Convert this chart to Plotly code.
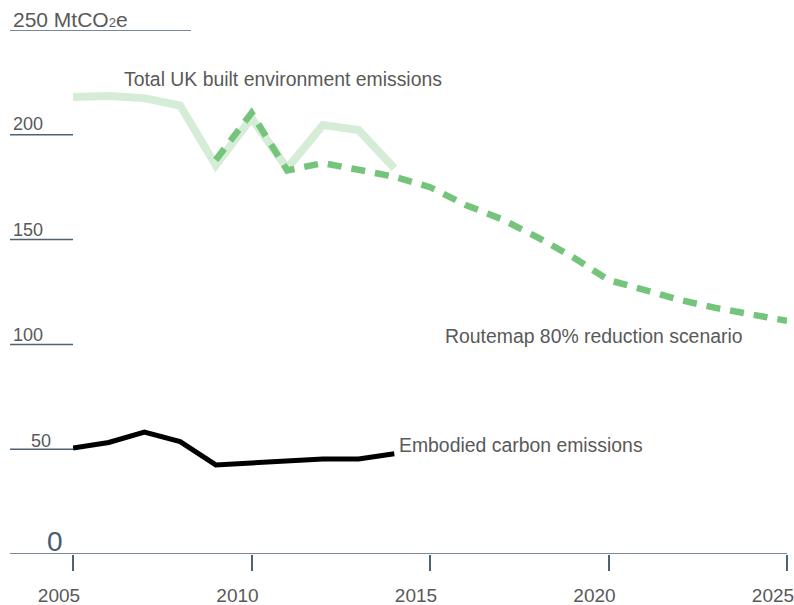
import plotly.graph_objects as go

years_hist = [2005, 2006, 2007, 2008, 2009, 2010, 2011, 2012, 2013, 2014]
total_uk = [218, 218.5, 217.5, 214, 185.5, 208, 184, 204.7, 202.3, 184]
embodied = [50.6, 53.2, 58.2, 53.6, 42.5, 43.4, 44.2, 45.3, 45.3, 47.8]

years_route = [2009, 2010, 2011, 2012, 2013, 2014, 2015, 2016, 2017, 2018,
               2019, 2020, 2021, 2022, 2023, 2024, 2025]
routemap = [188, 210.4, 183, 186.5, 183.3, 180, 175, 166.5, 159.8, 151.2,
            141.7, 130.7, 126, 121.2, 117.4, 114.5, 111.2]

x_ticks = [2005, 2010, 2015, 2020, 2025]
y_grid = [200, 150, 100, 50]
y_labels = ["200", "150", "100", "50"]

AX = "#4e6275"
TXT = "#595959"
FONT = "Liberation Sans, Arial, Helvetica, sans-serif"

W, H = 794, 605
L, R, T, B = 73, 7, 30, 51
PW = W - L - R
PH = H - T - B


def px2paper(px):
    return (px - L) / PW


def py2paper(py):
    return (H - B - py) / PH


fig = go.Figure()
fig.add_trace(go.Scatter(x=years_hist, y=total_uk, mode="lines",
                         line=dict(color="#d5ecd6", width=8),
                         name="Total UK built environment emissions"))
fig.add_trace(go.Scatter(x=years_route, y=routemap, mode="lines",
                         line=dict(color="#74c47b", width=6.5, dash="14px,10px"),
                         name="Routemap 80% reduction scenario"))
fig.add_trace(go.Scatter(x=years_hist, y=embodied, mode="lines",
                         line=dict(color="#000000", width=5),
                         name="Embodied carbon emissions"))

shapes = []
shapes.append(dict(type="line", xref="paper", yref="y", x0=px2paper(10), x1=px2paper(191),
                   y0=250, y1=250, line=dict(color=AX, width=1.5)))
for v in y_grid:
    shapes.append(dict(type="line", xref="paper", yref="y", x0=px2paper(10), x1=0,
                       y0=v, y1=v, line=dict(color=AX, width=1.5)))
shapes.append(dict(type="line", xref="paper", yref="y", x0=px2paper(10), x1=1,
                   y0=0, y1=0, line=dict(color=AX, width=1.5)))

annotations = []
annotations.append(dict(text="250 MtCO<span style='font-size:13px'>2</span>e", xref="paper", yref="paper",
                        x=px2paper(11), y=py2paper(19.5), xanchor="left", yanchor="middle",
                        showarrow=False, font=dict(size=21, color=TXT, family=FONT)))
label_px = {"200": (12, 124), "150": (12, 230), "100": (12, 335), "50": (30, 441)}
for lab in y_labels:
    lx, ly = label_px[lab]
    annotations.append(dict(text=lab, xref="paper", yref="paper", x=px2paper(lx - 1),
                            y=py2paper(ly), xanchor="left", yanchor="middle",
                            showarrow=False, font=dict(size=18, color=TXT, family=FONT)))
annotations.append(dict(text="0", xref="paper", yref="paper", x=px2paper(65),
                        y=py2paper(541), xanchor="right", yanchor="middle",
                        showarrow=False, font=dict(size=28, color="#4a5d70", family=FONT)))

series_labels = [
    ("Total UK built environment emissions", 122, 79),
    ("Routemap 80% reduction scenario", 443, 336),
    ("Embodied carbon emissions", 397, 445),
]
for txt, lx, ly in series_labels:
    annotations.append(dict(text=txt, xref="paper", yref="paper", x=px2paper(lx),
                            y=py2paper(ly), xanchor="left", yanchor="middle",
                            showarrow=False, font=dict(size=19.4, color=TXT, family=FONT)))

fig.update_layout(
    width=W, height=H, autosize=False,
    margin=dict(l=L, r=R, t=T, b=B, pad=0),
    paper_bgcolor="white", plot_bgcolor="white",
    showlegend=False,
    shapes=shapes, annotations=annotations,
    xaxis=dict(range=[2005, 2025.0001], tickvals=x_ticks, ticktext=[str(t) for t in x_ticks],
               ticks="outside", ticklen=16, tickwidth=2, tickcolor=AX,
               showgrid=False, zeroline=False, showline=False, automargin=False,
               tickfont=dict(size=19, color=TXT, family=FONT),
               ticklabelshift=-14, ticklabelstandoff=8, ticklabeloverflow="allow"),
    yaxis=dict(range=[0, 250], showticklabels=False, showgrid=False, automargin=False,
               zeroline=False, showline=False, ticks=""),
)

fig.write_html("out.html", config={"displayModeBar": False},
               post_script="document.body.style.margin='0';document.body.style.overflow='hidden';")
